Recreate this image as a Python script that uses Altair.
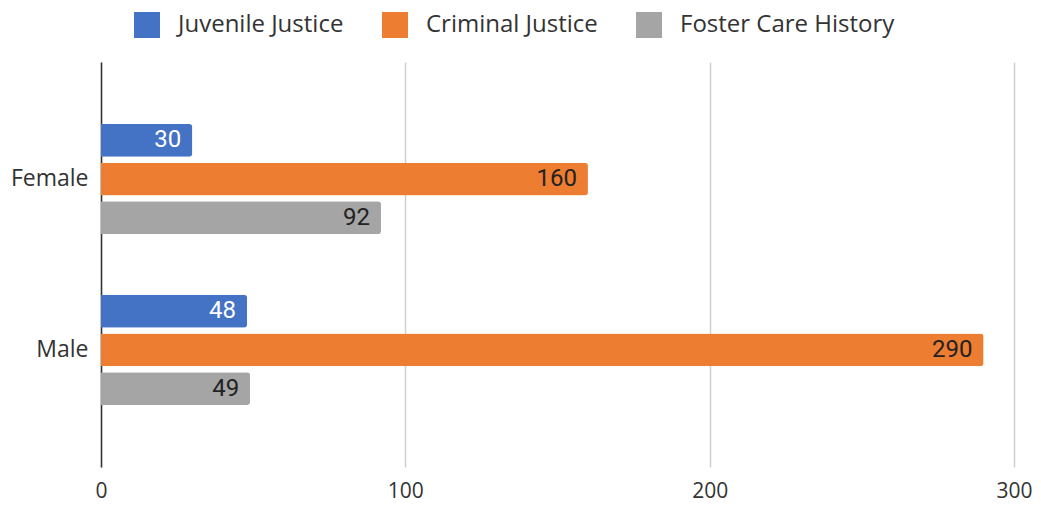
import altair as alt
import pandas as pd

genders = ["Female", "Male"]
series = ["Juvenile Justice", "Criminal Justice", "Foster Care History"]
juvenile = [30, 48]
criminal = [160, 290]
foster = [92, 49]
colors = ["#4472C4", "#ED7D31", "#A5A5A5"]
x_ticks = [0, 100, 200, 300]

rows = []
for i, g in enumerate(genders):
    for s, vals in zip(series, [juvenile, criminal, foster]):
        rows.append({"Gender": g, "Series": s, "Value": vals[i]})
df = pd.DataFrame(rows)

base = alt.Chart(df).encode(
    y=alt.Y("Gender:N", sort=genders, title=None,
            scale=alt.Scale(paddingInner=0.355, paddingOuter=0.363),
            axis=alt.Axis(domain=True, domainColor="#333333", domainWidth=1.5,
                          ticks=False, labelFontSize=23, labelColor="#333333",
                          labelFont="Open Sans", labelPadding=13)),
    yOffset=alt.YOffset("Series:N", sort=series,
                        scale=alt.Scale(paddingInner=0.15, paddingOuter=0)),
    x=alt.X("Value:Q", title=None,
            scale=alt.Scale(domain=[0, 300], nice=False),
            axis=alt.Axis(values=x_ticks, domain=False, ticks=False,
                          grid=True, gridColor="#D0D0D0", gridWidth=1.5,
                          labelFlush=False,
                          labelFontSize=21, labelColor="#333333",
                          labelFont="Open Sans", labelPadding=13)),
)

bars = base.mark_bar(cornerRadiusEnd=3).encode(
    color=alt.Color("Series:N", sort=series,
                    scale=alt.Scale(domain=series, range=colors),
                    legend=alt.Legend(title=None, orient="none", direction="horizontal",
                                      legendX=33, legendY=-50,
                                      symbolType="square", symbolSize=676,
                                      symbolStrokeWidth=0, labelFontSize=24,
                                      labelFont="Open Sans", labelColor="#333333",
                                      labelLimit=400,
                                      labelOffset=18, columnPadding=38))
)

labels = base.mark_text(align="right", baseline="middle", dx=-11,
                        fontSize=24, font="Roboto").encode(
    text=alt.Text("Value:Q"),
    color=alt.condition(alt.datum.Series == "Juvenile Justice",
                        alt.value("white"), alt.value("#222222")),
)

chart = alt.layer(bars, labels).properties(
    width=913, height=405,
    autosize=alt.AutoSizeParams(type="none"),
    padding={"left": 93, "top": 54, "right": 19, "bottom": 40},
).configure_view(stroke=None)

chart.save("out.html", embed_options={"renderer": "svg", "actions": False})
